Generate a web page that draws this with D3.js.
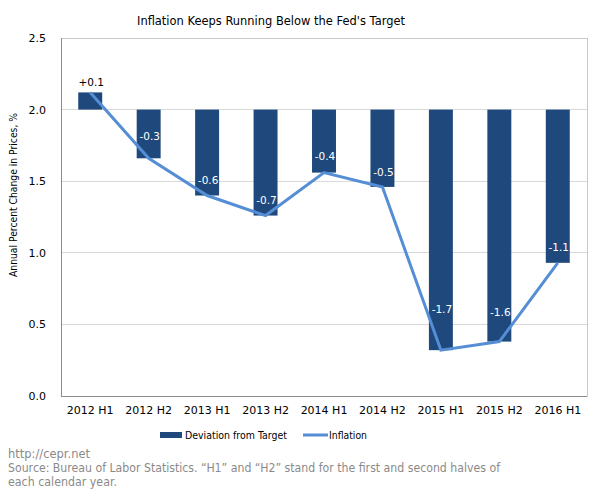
<!DOCTYPE html>
<html><head><meta charset="utf-8">
<script src="https://cdn.jsdelivr.net/npm/d3@7/dist/d3.min.js"></script>
<style>body{margin:0;background:#fff}svg{display:block;font-family:"DejaVu Sans",Verdana,sans-serif}</style>
</head><body>
<script>
const categories = ["2012 H1","2012 H2","2013 H1","2013 H2","2014 H1","2014 H2","2015 H1","2015 H2","2016 H1"];
const inflation = [2.12, 1.66, 1.40, 1.26, 1.56, 1.46, 0.32, 0.38, 0.93];
const deviationLabels = ["+0.1","-0.3","-0.6","-0.7","-0.4","-0.5","-1.7","-1.6","-1.1"];
const target = 2.0;
const yTicks = [0, 0.5, 1.0, 1.5, 2.0, 2.5];
// layout: label offsets (px above bar end) to avoid the line
const labelLift = [0, 18, 12, 12, 13, 11, 37, 26, 12];

const W = 600, H = 494;
const m = {l: 61, r: 13, t: 38, b: 98};
const svg = d3.select("body").append("svg").attr("width", W).attr("height", H);

const x = d3.scaleBand().domain(categories).range([m.l, W - m.r]).paddingInner(0.59).paddingOuter(0.295);
const y = d3.scaleLinear().domain([0, 2.5]).range([H - m.b, m.t]);

// gridlines
svg.append("g").selectAll("line").data(yTicks.slice(1, -1)).join("line")
  .attr("x1", m.l).attr("x2", W - m.r).attr("y1", d => y(d)).attr("y2", d => y(d))
  .attr("stroke", "#d9d9d9").attr("stroke-width", 1).attr("shape-rendering", "crispEdges");

// plot border
svg.append("rect").attr("x", m.l).attr("y", m.t).attr("width", W - m.r - m.l).attr("height", H - m.b - m.t)
  .attr("fill", "none").attr("stroke", "#c8c8c8").attr("shape-rendering", "crispEdges");
svg.append("line").attr("x1", m.l).attr("x2", m.l).attr("y1", m.t).attr("y2", H - m.b)
  .attr("stroke", "#8c8c8c").attr("shape-rendering", "crispEdges");
svg.append("line").attr("x1", m.l).attr("x2", W - m.r).attr("y1", H - m.b).attr("y2", H - m.b)
  .attr("stroke", "#8c8c8c").attr("shape-rendering", "crispEdges");

// y axis
const yAxis = d3.axisLeft(y).tickValues(yTicks).tickFormat(d3.format(".1f")).tickSize(0).tickPadding(15);
const gy = svg.append("g").attr("transform", `translate(${m.l},0)`).call(yAxis);
gy.select(".domain").remove();
gy.selectAll("text").attr("font-size", 11).attr("fill", "#000").attr("font-family", "DejaVu Sans, Verdana, sans-serif");

// x axis
const xAxis = d3.axisBottom(x).tickSize(0).tickPadding(10);
const gx = svg.append("g").attr("transform", `translate(0,${H - m.b})`).call(xAxis);
gx.select(".domain").remove();
gx.selectAll("text").attr("font-size", 11).attr("fill", "#000").attr("font-family", "DejaVu Sans, Verdana, sans-serif");

// bars
svg.append("g").selectAll("rect").data(inflation).join("rect")
  .attr("x", (d, i) => x(categories[i]))
  .attr("width", x.bandwidth())
  .attr("y", d => y(Math.max(d, target)))
  .attr("height", d => Math.abs(y(d) - y(target)))
  .attr("fill", "#1f497d");

// line
const line = d3.line().x((d, i) => x(categories[i]) + x.bandwidth() / 2).y(d => y(d));
svg.append("path").datum(inflation).attr("d", line).attr("fill", "none")
  .attr("stroke", "#558ed5").attr("stroke-width", 3).attr("stroke-linejoin", "miter");

// labels
svg.append("g").selectAll("text").data(inflation).join("text")
  .attr("x", (d, i) => x(categories[i]) + x.bandwidth() / 2 + 1)
  .attr("y", (d, i) => d >= target ? y(d) - 6 : y(d) - labelLift[i])
  .attr("text-anchor", "middle").attr("font-size", 10.5)
  .attr("fill", d => d >= target ? "#000" : "#fff")
  .text((d, i) => deviationLabels[i]);

// title
svg.append("text").attr("x", 271).attr("y", 25).attr("text-anchor", "middle")
  .attr("font-size", 12.5).attr("fill", "#000").attr("textLength", 268).attr("lengthAdjust", "spacingAndGlyphs")
  .text("Inflation Keeps Running  Below the Fed's Target");

// y title
svg.append("text").attr("transform", "translate(17,195) rotate(-90)").attr("text-anchor", "middle")
  .attr("font-size", 11).attr("fill", "#000").attr("textLength", 164).attr("lengthAdjust", "spacingAndGlyphs")
  .text("Annual Percent Change in Prices, %");

// legend
const lg = svg.append("g");
lg.append("rect").attr("x", 160).attr("y", 432).attr("width", 22).attr("height", 6).attr("fill", "#1f497d");
lg.append("text").attr("x", 185).attr("y", 439).attr("font-size", 11).attr("fill", "#000")
  .attr("textLength", 102).attr("lengthAdjust", "spacingAndGlyphs").text("Deviation from Target");
lg.append("line").attr("x1", 303).attr("x2", 328).attr("y1", 435).attr("y2", 435).attr("stroke", "#558ed5").attr("stroke-width", 3);
lg.append("text").attr("x", 329).attr("y", 439).attr("font-size", 11).attr("fill", "#000")
  .attr("textLength", 38).attr("lengthAdjust", "spacingAndGlyphs").text("Inflation");

// footer
const foot = ["http://cepr.net",
  "Source: Bureau of Labor Statistics. \u201cH1\u201d and \u201cH2\u201d stand for the first and second halves of",
  "each calendar year."];
const footLen = [82, 492, 109];
svg.append("g").selectAll("text").data(foot).join("text")
  .attr("x", 8).attr("y", (d, i) => 458 + i * 14)
  .attr("font-size", 11.5).attr("fill", "#8a8a8a")
  .attr("textLength", (d, i) => footLen[i]).attr("lengthAdjust", "spacingAndGlyphs")
  .text(d => d);
</script>
</body></html>
